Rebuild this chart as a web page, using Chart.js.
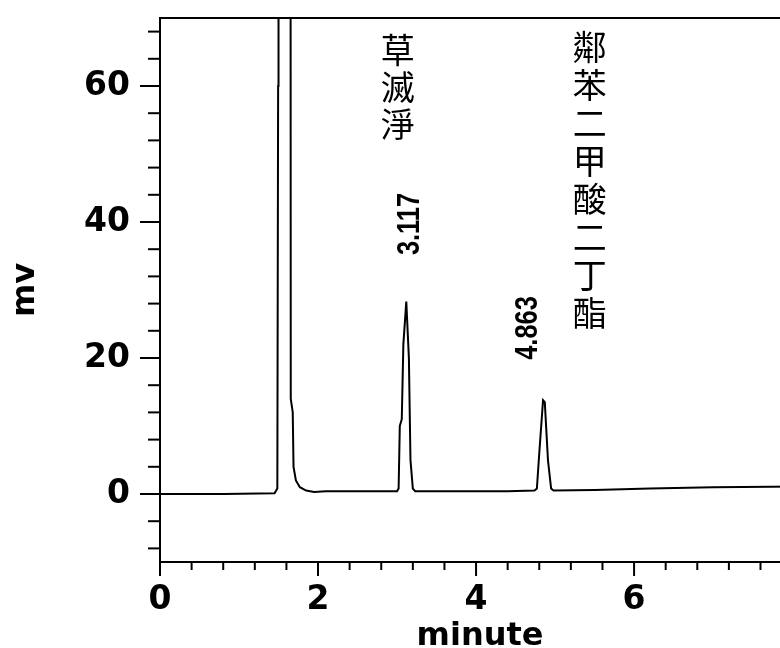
<!DOCTYPE html>
<html>
<head>
<meta charset="utf-8">
<script src="https://cdn.jsdelivr.net/npm/chart.js@4.4.1/dist/chart.umd.min.js"></script>
<style>
  html, body { margin: 0; padding: 0; background: #fff; overflow: hidden; }
  #wrap { width: 800px; height: 648px; }
</style>
</head>
<body>
<div id="wrap"><canvas id="chrom"></canvas></div>
<script>
// retention time (minute) and detector signal (mV)
const times  = [0, 0.8, 1.45, 1.485, 1.495, 1.50, 1.645, 1.655, 1.68, 1.69, 1.72, 1.77, 1.85, 1.95, 2.10, 2.60,
                3.00, 3.02, 3.035, 3.06, 3.08, 3.117, 3.15, 3.17, 3.20, 3.23, 3.80, 4.40,
                4.74, 4.77, 4.80, 4.848, 4.87, 4.91, 4.95, 4.98, 5.50, 6.20, 7.00, 8.10];
const signal = [0, 0, 0.1, 0.8, 60, 300, 300, 14, 12, 4, 2, 1, 0.5, 0.3, 0.4, 0.4,
                0.4, 0.8, 10, 11, 22, 28.3, 20, 5, 0.8, 0.4, 0.4, 0.4,
                0.5, 0.8, 6, 13.8, 13.5, 5, 0.8, 0.5, 0.6, 0.8, 1.0, 1.1];

const xTickLabels = [0, 2, 4, 6];
const yTickLabels = [0, 20, 40, 60];
const xMinorStep = 0.4;
const yMinorStep = 4;

const peakNames = ['草滅淨', '鄰苯二甲酸二丁酯'];
const peakTimes = ['3.117', '4.863'];

const xTicks = [];
for (let i = 0; i * xMinorStep <= 8; i++) xTicks.push(Math.round(i * xMinorStep * 10) / 10);
const yTicks = [];
for (let v = -8; v <= 68; v += yMinorStep) yTicks.push(v);

const numFont = 'DejaVu Sans';

const decor = {
  id: 'decor',
  afterDraw(chart) {
    const ctx = chart.ctx, xs = chart.scales.x, ys = chart.scales.y, a = chart.chartArea;
    ctx.save();
    ctx.strokeStyle = '#000';
    ctx.lineWidth = 2;
    // frame top
    ctx.beginPath();
    ctx.moveTo(a.left - 1, a.top);
    ctx.lineTo(a.right, a.top);
    ctx.stroke();
    // tick marks
    yTicks.forEach(v => {
      const py = ys.getPixelForValue(v);
      const len = yTickLabels.includes(v) ? 20 : 12;
      ctx.beginPath();
      ctx.moveTo(a.left - len, py);
      ctx.lineTo(a.left, py);
      ctx.stroke();
    });
    xTicks.forEach(v => {
      const px = xs.getPixelForValue(v);
      const len = xTickLabels.includes(v) ? 14 : 8;
      ctx.beginPath();
      ctx.moveTo(px, a.bottom);
      ctx.lineTo(px, a.bottom + len);
      ctx.stroke();
    });

    // peak names, characters stacked vertically
    ctx.fillStyle = '#000';
    ctx.textAlign = 'center';
    ctx.textBaseline = 'top';
    ctx.font = '34px "Noto Sans CJK TC"';
    const names = [
      { text: peakNames[0], x: xs.getPixelForValue(3.01), y: 33, step: 37 },
      { text: peakNames[1], x: xs.getPixelForValue(5.44), y: 30, step: 38 }
    ];
    names.forEach(n => {
      [...n.text].forEach((ch, i) => ctx.fillText(ch, n.x, n.y + i * n.step));
    });

    // retention time labels, rotated
    ctx.font = 'bold 31px "Liberation Sans"';
    ctx.textBaseline = 'middle';
    const rts = [
      { text: peakTimes[0], x: 410, y: 224 },
      { text: peakTimes[1], x: 528, y: 328 }
    ];
    rts.forEach(r => {
      ctx.save();
      ctx.translate(r.x, r.y);
      ctx.rotate(-Math.PI / 2);
      ctx.scale(0.82, 1);
      ctx.fillText(r.text, 0, 0);
      ctx.restore();
    });
    ctx.restore();
  }
};

new Chart(document.getElementById('chrom').getContext('2d'), {
  type: 'line',
  data: {
    datasets: [{
      data: times.map((t, i) => ({ x: t, y: signal[i] })),
      borderColor: '#000',
      borderWidth: 2,
      pointRadius: 0,
      tension: 0,
      fill: false
    }]
  },
  options: {
    responsive: true,
    maintainAspectRatio: false,
    animation: false,
    layout: { padding: { top: 18, right: 0, left: 0, bottom: 0 } },
    plugins: { legend: { display: false }, tooltip: { enabled: false } },
    scales: {
      x: {
        type: 'linear',
        min: 0,
        max: 8.1,
        afterBuildTicks: s => { s.ticks = xTicks.map(v => ({ value: v })); },
        afterFit: s => { s.height = 86; s.paddingLeft = 0; s.paddingRight = 0; },
        grid: { display: false, drawTicks: false },
        border: { display: true, color: '#000', width: 2 },
        ticks: {
          autoSkip: false,
          maxRotation: 0,
          padding: 19,
          color: '#000',
          font: { family: numFont, size: 33, weight: 'bold' },
          callback: v => xTickLabels.includes(v) ? String(v) : ''
        },
        title: {
          display: true,
          text: 'minute',
          color: '#000',
          padding: 0,
          font: { family: numFont, size: 32, weight: 'bold', lineHeight: 0.7 }
        }
      },
      y: {
        min: -10,
        max: 70,
        afterBuildTicks: s => { s.ticks = yTicks.map(v => ({ value: v })); },
        afterFit: s => { s.width = 160; s.paddingTop = 0; s.paddingBottom = 0; },
        grid: { display: false, drawTicks: false },
        border: { display: true, color: '#000', width: 2 },
        ticks: {
          autoSkip: false,
          padding: 30,
          color: '#000',
          font: { family: numFont, size: 33, weight: 'bold' },
          callback: v => yTickLabels.includes(v) ? String(v) : ''
        },
        title: {
          display: true,
          text: 'mv',
          color: '#000',
          padding: { top: 6, bottom: 0 },
          font: { family: numFont, size: 32, weight: 'bold', lineHeight: 1.2 }
        }
      }
    }
  },
  plugins: [decor]
});
</script>
</body>
</html>
